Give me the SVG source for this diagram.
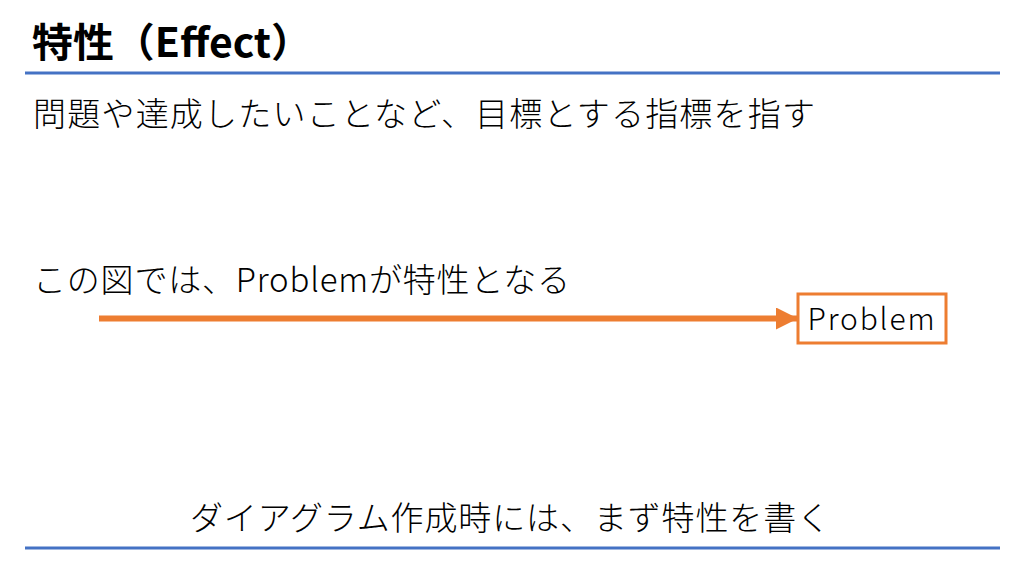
<svg xmlns="http://www.w3.org/2000/svg" width="1024" height="576" viewBox="0 0 1024 576">
<style>
.t{font-family:"Noto Sans CJK JP","Noto Sans",sans-serif;fill:#000}
.title{font-size:40px;font-weight:bold}
.body{font-size:33px;font-weight:300}
.rule{stroke:#4472c4;stroke-width:3}
</style>
<defs>
<marker id="ah" markerWidth="22" markerHeight="22" refX="21" refY="11" orient="auto" markerUnits="userSpaceOnUse" viewBox="0 0 22 22">
<path d="M0,0L22,11L0,22z" fill="#ed7d31"/>
</marker>
</defs>
<rect width="1024" height="576" fill="#fff"/>
<text class="t title" x="32" y="57" textLength="280" lengthAdjust="spacingAndGlyphs">特性（Effect）</text>
<line class="rule" x1="25" y1="73" x2="1000" y2="73"/>
<text class="t body" x="33" y="126" textLength="782" lengthAdjust="spacing">問題や達成したいことなど、目標とする指標を指す</text>
<text class="t body" x="33" y="292" textLength="537" lengthAdjust="spacing">この図では、Problemが特性となる</text>
<g id="connectors">
<line x1="99" y1="318.5" x2="797" y2="318.5" stroke="#ed7d31" stroke-width="6" marker-end="url(#ah)"/>
</g>
<g id="problem">
<rect x="798" y="294" width="148" height="49" fill="#fff" stroke="#ed7d31" stroke-width="3"/>
<text class="t" x="871" y="330" font-size="30" font-weight="300" text-anchor="middle" textLength="127" lengthAdjust="spacing">Problem</text>
</g>
<text class="t body" x="190" y="530" textLength="640" lengthAdjust="spacing">ダイアグラム作成時には、まず特性を書く</text>
<line class="rule" x1="25" y1="548" x2="1000" y2="548"/>
</svg>
